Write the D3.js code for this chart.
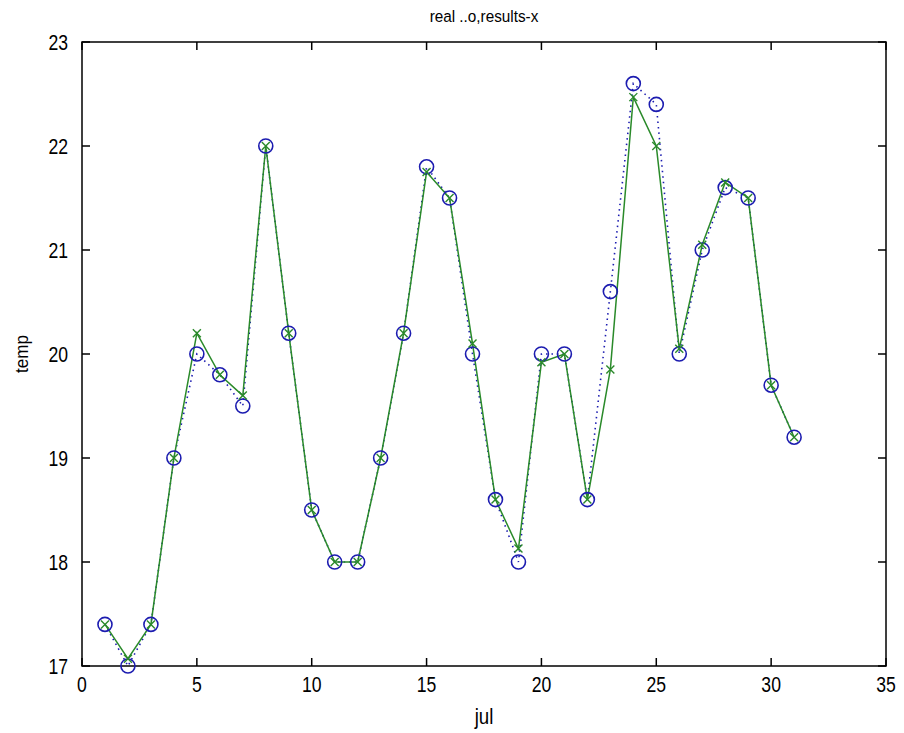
<!DOCTYPE html>
<html><head><meta charset="utf-8">
<script src="https://cdn.jsdelivr.net/npm/d3@7"></script>
<style>
body{margin:0;background:#fff;}
text{font-family:"Liberation Sans",Arial,sans-serif;fill:#000;}
</style></head>
<body><svg id="c" width="904" height="733"></svg>
<script>
const days = d3.range(1, 32);
const realTemp = [17.4,17.0,17.4,19.0,20.0,19.8,19.5,22.0,20.2,18.5,18.0,18.0,19.0,20.2,21.8,21.5,20.0,18.6,18.0,20.0,20.0,18.6,20.6,22.6,22.4,20.0,21.0,21.6,21.5,19.7,19.2];
const resultTemp = [17.4,17.07,17.4,19.0,20.2,19.8,19.6,22.0,20.2,18.5,18.0,18.0,19.0,20.2,21.75,21.5,20.1,18.6,18.13,19.92,20.0,18.6,19.85,22.47,22.0,20.05,21.05,21.65,21.5,19.7,19.2];
const xTicks = [0,5,10,15,20,25,30,35];
const yTicks = [17,18,19,20,21,22,23];
const titleText = "real ..o,results-x";
const xLabel = "jul";
const yLabel = "temp";

const svg = d3.select("#c");
const L = 82, R = 886, T = 42, B = 666;
const x = d3.scaleLinear().domain([0,35]).range([L,R]);
const y = d3.scaleLinear().domain([17,23]).range([B,T]);

svg.append("rect").attr("x",L).attr("y",T).attr("width",R-L).attr("height",B-T)
  .attr("fill","none").attr("stroke","#000").attr("stroke-width",1.5);

const tl = 8, sx = 0.8;
const ax = svg.append("g");
xTicks.forEach(v=>{
  ax.append("line").attr("x1",x(v)).attr("x2",x(v)).attr("y1",B).attr("y2",B-tl).attr("stroke","#000").attr("stroke-width",1.5);
  ax.append("line").attr("x1",x(v)).attr("x2",x(v)).attr("y1",T).attr("y2",T+tl).attr("stroke","#000").attr("stroke-width",1.5);
  ax.append("text").attr("transform",`translate(${x(v)},${B+26}) scale(${sx},1)`)
    .attr("text-anchor","middle").attr("font-size",22).text(v);
});
yTicks.forEach(v=>{
  ax.append("line").attr("x1",L).attr("x2",L+tl).attr("y1",y(v)).attr("y2",y(v)).attr("stroke","#000").attr("stroke-width",1.5);
  ax.append("line").attr("x1",R).attr("x2",R-tl).attr("y1",y(v)).attr("y2",y(v)).attr("stroke","#000").attr("stroke-width",1.5);
  ax.append("text").attr("transform",`translate(${L-14},${y(v)+8}) scale(${sx},1)`)
    .attr("text-anchor","end").attr("font-size",22).text(v);
});

svg.append("text").attr("transform","translate(484,22) scale(0.9,1)").attr("text-anchor","middle").attr("font-size",17).text(titleText);
svg.append("text").attr("transform","translate(484,724) scale(0.85,1)").attr("text-anchor","middle").attr("font-size",22).text(xLabel);
svg.append("text").attr("transform","translate(28,354) rotate(-90) scale(0.9,1)").attr("text-anchor","middle").attr("font-size",19).text(yLabel);

const line = d3.line().x((d,i)=>x(days[i])).y(d=>y(d));
const blue = "#1c1cb0", green = "#2a8a2a";

svg.append("path").attr("d",line(realTemp)).attr("fill","none").attr("stroke",blue)
  .attr("stroke-width",1.6).attr("stroke-dasharray","1.5,4");
svg.append("path").attr("d",line(resultTemp)).attr("fill","none").attr("stroke",green).attr("stroke-width",1.5);

svg.selectAll("circle.r").data(realTemp).join("circle").attr("class","r")
  .attr("cx",(d,i)=>x(days[i])).attr("cy",d=>y(d)).attr("r",7)
  .attr("fill","none").attr("stroke",blue).attr("stroke-width",1.6);

const s = 4;
svg.selectAll("path.xm").data(resultTemp).join("path").attr("class","xm")
  .attr("d",(d,i)=>{const cx=x(days[i]), cy=y(d);
    return `M${cx-s},${cy-s}L${cx+s},${cy+s}M${cx-s},${cy+s}L${cx+s},${cy-s}`;})
  .attr("stroke",green).attr("stroke-width",1.4).attr("fill","none");
</script></body></html>
